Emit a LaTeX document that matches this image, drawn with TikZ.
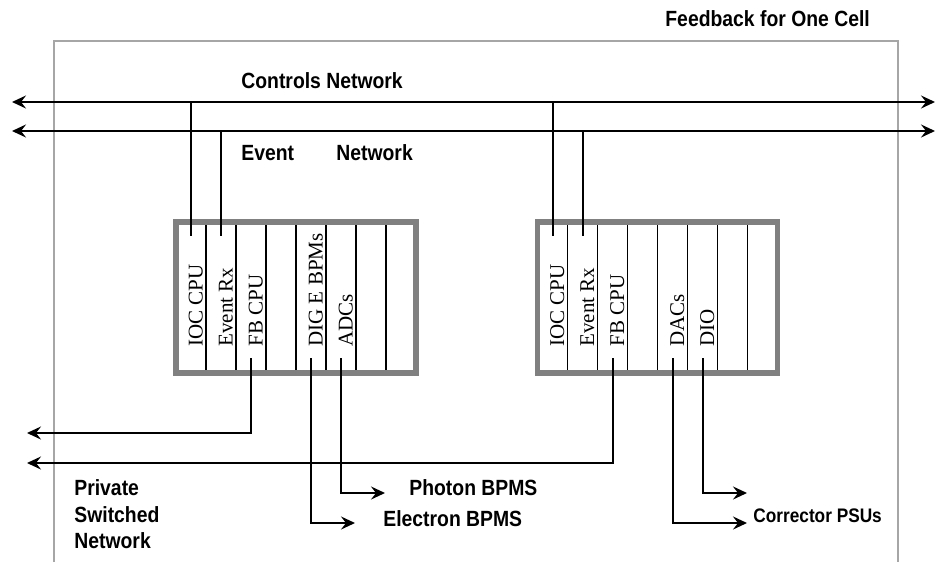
\documentclass[tikz,border=0pt]{standalone}
\usepackage{fontspec}
\setmainfont{Liberation Serif}
\newfontfamily\labfont[FakeStretch=0.88]{Liberation Sans}
\usetikzlibrary{arrows.meta}

% One VME crate: eight slots of 30 units starting at x = #2,
% with named attachment points at the top (t) and bottom (b) of each slot.
\newcommand\drawcrate[2]{%
  \foreach \i in {1,...,7}
    \draw[slotline] (#2+30*\i,222) -- (#2+30*\i,373);
  \draw[crate] (#2,222) rectangle (#2+240,373);
  \foreach \i in {0,...,7} {
    \coordinate (#1-t\i) at (#2+30*\i+15,236);
    \coordinate (#1-b\i) at (#2+30*\i+15,358);
    \coordinate (#1-l\i) at (#2+30*\i+26.5,347);
  }%
}

\begin{document}
\begin{tikzpicture}[x=0.5pt,y=-0.5pt,
  wire/.style={line width=1pt, black},
  tip/.style={-{Stealth[length=7pt,width=6.5pt,inset=2.5pt]}},
  bothtips/.style={{Stealth[length=7pt,width=6.5pt,inset=2.5pt]}-{Stealth[length=7pt,width=6.5pt,inset=2.5pt]}},
  frame/.style={draw=black!35, line width=1.1pt},
  crate/.style={draw=black!50, line width=2.8pt},
  slotline/.style={line width=0.9pt, black},
  lab/.style={font=\labfont\bfseries\fontsize{11}{13}\selectfont, anchor=base west, inner sep=0pt},
  smalllab/.style={lab, font=\labfont\bfseries\fontsize{9.8}{12}\selectfont},
  slotlab/.style={font=\fontsize{10.5}{12}\selectfont, rotate=90, anchor=base west, inner sep=0pt}]

\useasboundingbox (0,0) rectangle (935,562);

% cell boundary, open at the bottom
\draw[frame] (54,562) -- (54,41) -- (898,41) -- (898,562);

% titles and network labels
\node[lab] (title) at (665,26) {Feedback for One Cell};
\node[lab] (ctrllab) at (241,88) {Controls Network};
\node[lab] (evlab1) at (241,160) {Event};
\node[lab] (evlab2) at (336,160) {Network};

% crates
\drawcrate{A}{176}
\drawcrate{B}{537.5}

% slot labels
\node[slotlab] (a-ioc) at (A-l0) {IOC CPU};
\node[slotlab] (a-evr) at (A-l1) {Event Rx};
\node[slotlab] (a-fb)  at (A-l2) {FB CPU};
\node[slotlab] (a-dig) at (A-l4) {DIG E BPMs};
\node[slotlab] (a-adc) at (A-l5) {ADCs};
\node[slotlab] (b-ioc) at (B-l0) {IOC CPU};
\node[slotlab] (b-evr) at (B-l1) {Event Rx};
\node[slotlab] (b-fb)  at (B-l2) {FB CPU};
\node[slotlab] (b-dac) at (B-l4) {DACs};
\node[slotlab] (b-dio) at (B-l5) {DIO};

% controls and event networks
\coordinate (cnl) at (12,102);  \coordinate (cnr) at (935,102);
\coordinate (enl) at (12,131);  \coordinate (enr) at (935,131);
\draw[wire, bothtips] (cnl) -- (cnr);
\draw[wire, bothtips] (enl) -- (enr);

\draw[wire] (A-t0 |- cnl) -- (A-t0);
\draw[wire] (A-t1 |- enl) -- (A-t1);
\draw[wire] (B-t0 |- cnl) -- (B-t0);
\draw[wire] (B-t1 |- enl) -- (B-t1);

% private switched network
\coordinate (psn1) at (27,433);
\coordinate (psn2) at (27,463);
\draw[wire, tip] (A-b2) |- (psn1);
\draw[wire, tip] (B-b2) |- (psn2);

% BPM inputs and corrector outputs
\coordinate (ebpm) at (355,523);
\coordinate (pbpm) at (385,493);
\coordinate (cps1) at (747,523);
\coordinate (cps2) at (747,493);
\draw[wire, tip] (A-b4) |- (ebpm);
\draw[wire, tip] (A-b5) |- (pbpm);
\draw[wire, tip] (B-b4) |- (cps1);
\draw[wire, tip] (B-b5) |- (cps2);

\node[lab] (phot) at (409,495) {Photon BPMS};
\node[lab] (elec) at (383,526) {Electron BPMS};
\node[smalllab] (corr) at (753,522) {Corrector PSUs};
\node[lab] (psn1lab) at (74,495) {Private};
\node[lab] (psn2lab) at (74,522) {Switched};
\node[lab] (psn3lab) at (74,548) {Network};

\end{tikzpicture}
\end{document}
